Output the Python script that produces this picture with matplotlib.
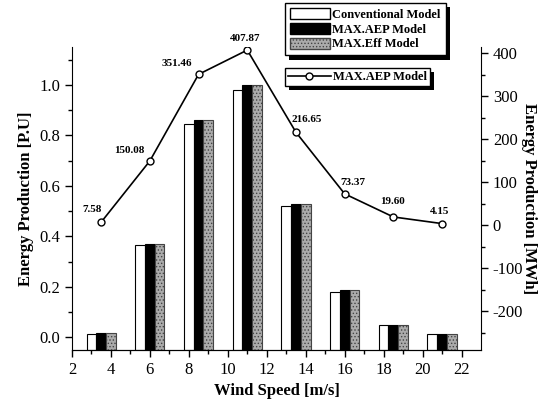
import matplotlib
matplotlib.use("Agg")
import numpy as np
from matplotlib import pyplot as plt
from matplotlib.patches import Patch
from matplotlib.lines import Line2D
import matplotlib.patheffects as pe

plt.rcParams['font.family'] = ['Liberation Serif', 'DejaVu Serif']
plt.rcParams['hatch.color'] = '#ffffff'
plt.rcParams['hatch.linewidth'] = 0.6
plt.rcParams['axes.unicode_minus'] = False

wind_speed = [3.5, 6.0, 8.5, 11.0, 13.5, 16.0, 18.5, 21.0]
conventional = [0.015, 0.365, 0.847, 0.98, 0.52, 0.178, 0.05, 0.015]
max_aep = [0.017, 0.37, 0.86, 1.0, 0.53, 0.186, 0.05, 0.015]
max_eff = [0.019, 0.368, 0.86, 0.998, 0.53, 0.186, 0.05, 0.015]
aep_mwh = [7.58, 150.08, 351.46, 407.87, 216.65, 73.37, 19.60, 4.15]
aep_labels = ["7.58", "150.08", "351.46", "407.87", "216.65", "73.37", "19.60", "4.15"]
# label offsets from marker, in pixels
label_offsets = [(-9, 13), (-21, 10), (-22, 11), (-2, 12), (11, 13), (8, 11), (-1, 15), (-2, 12)]

YLOW = -0.05
w = 0.5
EFF_COLOR = '#ababab'

fig = plt.figure(figsize=(5.47, 4.03), dpi=100)
ax = fig.add_axes([0.1316, 0.1315, 0.7477, 0.7518])

x = np.array(wind_speed)
def bars(offset, vals, **kw):
    vals = np.array(vals)
    return ax.bar(x + offset, vals - YLOW, bottom=YLOW, width=w, linewidth=0.8, **kw)

bars(-w, conventional, facecolor='white', edgecolor='black')
bars(0, max_aep, facecolor='black', edgecolor='black')
bars(w, max_eff, facecolor=EFF_COLOR, edgecolor='#444444', hatch='.....')

ax.set_xlim(2, 23)
ax.set_ylim(YLOW, 1.15)
ax.set_xticks([2, 4, 6, 8, 10, 12, 14, 16, 18, 20, 22])
ax.set_xticks(np.arange(3, 23, 2), minor=True)
ax.set_yticks([0.0, 0.2, 0.4, 0.6, 0.8, 1.0])
ax.set_yticklabels(["0.0", "0.2", "0.4", "0.6", "0.8", "1.0"])
ax.set_yticks(np.arange(0.1, 1.15, 0.2), minor=True)
ax.spines['top'].set_visible(False)
ax.spines['right'].set_visible(False)
ax.tick_params(axis='both', which='major', direction='out', length=5, width=1, labelsize=12)
ax.tick_params(axis='both', which='minor', direction='out', length=3, width=1)
ax.set_xlabel("Wind Speed [m/s]", fontsize=12, fontweight='bold')
ax.set_ylabel("Energy Production [P.U]", fontsize=12, fontweight='bold')

ax2 = ax.twinx()
ax2.plot(x, aep_mwh, color='black', linewidth=1.2, marker='o', markersize=5,
         markerfacecolor='white', markeredgecolor='black', zorder=5)
for xi, yi, lab, off in zip(x, aep_mwh, aep_labels, label_offsets):
    ax2.annotate(lab, (xi, yi), xytext=off, textcoords='offset pixels',
                 ha='center', va='center', fontsize=8, fontweight='bold')
ax2.set_ylim(-290, 415)
ax2.set_yticks([-200, -100, 0, 100, 200, 300, 400])
ax2.set_yticks(np.arange(-250, 415, 100), minor=True)
ax2.spines['top'].set_visible(False)
ax2.spines['left'].set_visible(False)
ax2.tick_params(axis='y', which='major', direction='out', length=5, width=1, labelsize=12)
ax2.tick_params(axis='y', which='minor', direction='out', length=3, width=1)
ax2.set_ylabel("Energy Production [MWh]", fontsize=12, fontweight='bold', rotation=-90, labelpad=10)

shadow = [pe.SimplePatchShadow(offset=(3, -3), shadow_rgbFace='black', alpha=1.0), pe.Normal()]

handles = [Patch(facecolor='white', edgecolor='black'),
           Patch(facecolor='black', edgecolor='black'),
           Patch(facecolor=EFF_COLOR, edgecolor='#444444', hatch='.....')]
leg1 = fig.legend(handles, ["Conventional Model", "MAX.AEP Model", "MAX.Eff Model"],
                  loc='upper left', bbox_to_anchor=(285 / 547, 1 - 3 / 403),
                  prop={'weight': 'bold', 'size': 9}, frameon=True, fancybox=False,
                  framealpha=1, handlelength=3.2, handleheight=1.0, handletextpad=0.2,
                  labelspacing=0.15, borderpad=0.4, borderaxespad=0)
leg1.get_frame().set_edgecolor('black')
leg1.get_frame().set_linewidth(1)
leg1.get_frame().set_path_effects(shadow)

leg2 = fig.legend([Line2D([], [], color='black', marker='o', markerfacecolor='white',
                          markersize=5, linewidth=1.2)], ["MAX.AEP Model"],
                  loc='upper left', bbox_to_anchor=(285 / 547, 1 - 68 / 403),
                  prop={'weight': 'bold', 'size': 9}, frameon=True, fancybox=False,
                  framealpha=1, handlelength=3.4, handletextpad=0.2, borderpad=0.25,
                  borderaxespad=0)
leg2.get_frame().set_edgecolor('black')
leg2.get_frame().set_linewidth(1)
leg2.get_frame().set_path_effects(shadow)

fig.savefig("out.png", dpi=100)
